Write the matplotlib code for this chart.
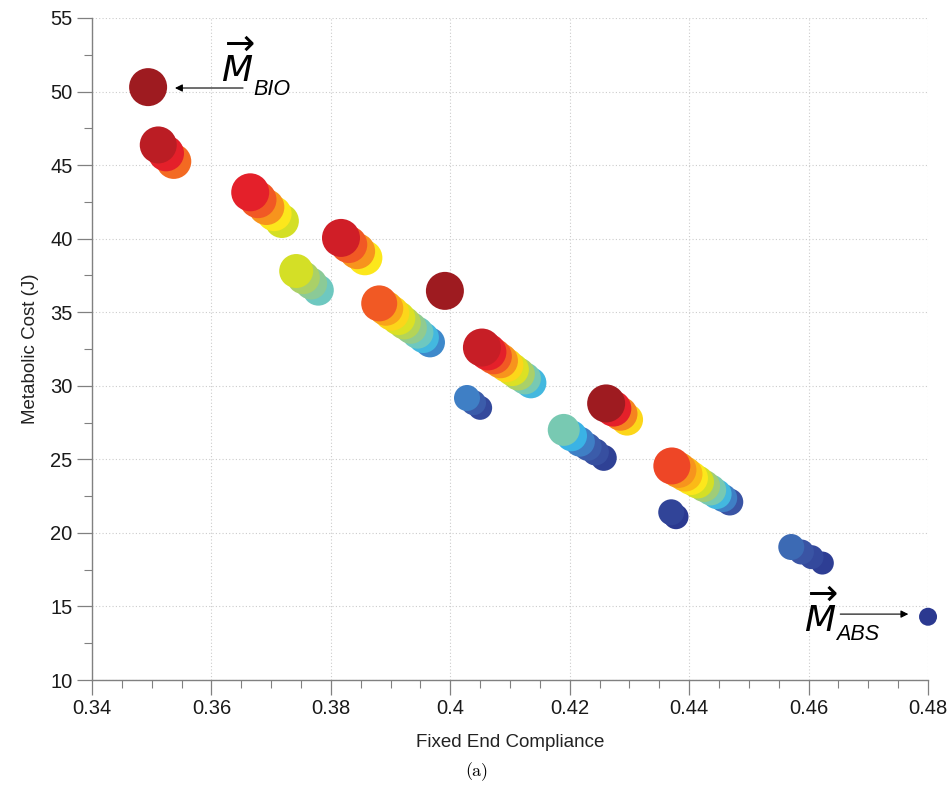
import numpy as np
import matplotlib
matplotlib.use("Agg")
import matplotlib.pyplot as plt
from matplotlib.colors import LinearSegmentedColormap
from matplotlib.ticker import MultipleLocator, FuncFormatter

# compliance / cost pairs, one list per design family (warm end first)
compliance = [
    [0.3494],
    [0.3511, 0.3524, 0.3537],
    [0.3665, 0.3678, 0.3692, 0.3705, 0.3718],
    [0.3817, 0.3830, 0.3844, 0.3857],
    [0.3742, 0.3754, 0.3767, 0.3779],
    [0.3991],
    [0.3881, 0.3892, 0.3902, 0.3913, 0.3923, 0.3934, 0.3945, 0.3955, 0.3966],
    [0.4053, 0.4063, 0.4073, 0.4084, 0.4094, 0.4104, 0.4114, 0.4125, 0.4135],
    [0.4028, 0.4039, 0.4050],
    [0.4261, 0.4273, 0.4285, 0.4296],
    [0.4190, 0.4203, 0.4217, 0.4230, 0.4243, 0.4257],
    [0.4371, 0.4382, 0.4393, 0.4403, 0.4414, 0.4425, 0.4436, 0.4446, 0.4457, 0.4468],
    [0.4370, 0.4378],
    [0.4571, 0.4588, 0.4605, 0.4623],
    [0.4800],
]
metabolic = [
    [50.30],
    [46.37, 45.80, 45.25],
    [43.15, 42.65, 42.15, 41.70, 41.20],
    [40.05, 39.60, 39.15, 38.70],
    [37.80, 37.35, 36.95, 36.50],
    [36.45],
    [35.60, 35.27, 34.94, 34.60, 34.27, 33.94, 33.61, 33.28, 32.95],
    [32.60, 32.30, 32.00, 31.70, 31.40, 31.10, 30.80, 30.50, 30.20],
    [29.17, 28.85, 28.50],
    [28.80, 28.45, 28.10, 27.70],
    [27.00, 26.60, 26.20, 25.85, 25.50, 25.10],
    [24.55, 24.28, 24.00, 23.73, 23.46, 23.19, 22.92, 22.64, 22.37, 22.10],
    [21.40, 21.10],
    [19.04, 18.70, 18.35, 17.95],
    [14.30],
]
# normalised activation level -> colour
level = [
    [1.00],
    [0.97, 0.93, 0.85],
    [0.93, 0.87, 0.80, 0.70, 0.60],
    [0.95, 0.87, 0.80, 0.70],
    [0.60, 0.52, 0.46, 0.40],
    [1.00],
    [0.87, 0.78, 0.72, 0.62, 0.54, 0.47, 0.40, 0.32, 0.22],
    [0.96, 0.93, 0.87, 0.80, 0.72, 0.62, 0.52, 0.42, 0.32],
    [0.20, 0.12, 0.06],
    [1.00, 0.93, 0.82, 0.72],
    [0.42, 0.30, 0.20, 0.12, 0.08, 0.03],
    [0.89, 0.80, 0.75, 0.70, 0.60, 0.50, 0.42, 0.32, 0.20, 0.10],
    [0.04, 0.00],
    [0.15, 0.10, 0.06, 0.02],
    [0.00],
]
# bubble weight (drawn as marker diameter)
weight = [
    [38],
    [37, 36, 35],
    [38, 37, 36, 35, 34],
    [38, 37, 36, 35],
    [34, 33, 32, 31],
    [38],
    [36, 35, 35, 34, 33, 32, 32, 31, 30],
    [38, 37, 36, 35, 34, 33, 33, 32, 31],
    [26, 25, 24],
    [38, 36, 34, 32],
    [32, 31, 30, 28, 27, 26],
    [37, 36, 35, 34, 33, 32, 31, 30, 28, 27],
    [26, 25],
    [26, 25, 24, 23],
    [18],
]

cmap = LinearSegmentedColormap.from_list("levels", [
    (0.00, "#2b3990"), (0.10, "#3a55a4"), (0.20, "#3f7fc5"),
    (0.30, "#3ab4e6"), (0.40, "#6ec8c0"), (0.50, "#9fcc7a"),
    (0.60, "#d4df26"), (0.70, "#fce91c"), (0.76, "#fbb416"),
    (0.80, "#f7941d"), (0.87, "#f15a24"), (0.93, "#e8202a"),
    (1.00, "#9e1b20"),
])

plt.rcParams["font.family"] = ["Liberation Sans", "DejaVu Sans"]
plt.rcParams["mathtext.fontset"] = "dejavusans"

fig = plt.figure(figsize=(9.53, 7.92), dpi=100)
ax = fig.add_axes([0.0965, 0.1414, 0.8773, 0.8359])

for xs, ys, cs, ws in zip(compliance, metabolic, level, weight):
    xs, ys, cs, ws = [np.asarray(v, float)[::-1] for v in (xs, ys, cs, ws)]
    ax.scatter(xs, ys, c=cs, s=(ws * 0.72) ** 2, cmap=cmap, vmin=0, vmax=1,
               edgecolors="none", zorder=3, clip_on=False)

ax.set_xlim(0.34, 0.48)
ax.set_ylim(10, 55)
ax.xaxis.set_major_locator(MultipleLocator(0.02))
ax.xaxis.set_minor_locator(MultipleLocator(0.005))
ax.yaxis.set_major_locator(MultipleLocator(5))
ax.yaxis.set_minor_locator(MultipleLocator(2.5))
ax.xaxis.set_major_formatter(FuncFormatter(lambda v, p: "%g" % round(v, 3)))

for side in ("top", "right"):
    ax.spines[side].set_visible(False)
for side in ("left", "bottom"):
    ax.spines[side].set_color("#808080")
    ax.spines[side].set_linewidth(1.0)
ax.tick_params(which="major", direction="out", length=11, width=0.9,
               color="#808080", labelsize=14.5, labelcolor="#1a1a1a", pad=3)
ax.tick_params(which="minor", direction="out", length=6, width=0.8,
               color="#808080")
ax.grid(True, which="major", linestyle=(0, (1, 2)), color="#cccccc", lw=0.8)
ax.set_axisbelow(True)

ax.set_xlabel("Fixed End Compliance", fontsize=13.5, color="#222222", labelpad=11)
ax.set_ylabel("Metabolic Cost (J)", fontsize=13.5, color="#222222", labelpad=8)

arrow = dict(arrowstyle="-|>", color="black", lw=0.8, mutation_scale=11,
             shrinkA=0, shrinkB=0)

# biological optimum
ax.annotate("", xy=(0.3539, 50.24), xytext=(0.3653, 50.24), arrowprops=arrow)
ax.text(0.3616, 50.65, r"$\overrightarrow{M}$", fontsize=26,
        ha="left", va="baseline")
ax.text(0.3670, 49.78, "BIO", fontsize=15.5, style="italic",
        ha="left", va="baseline")

# absolute optimum
ax.annotate("", xy=(0.4767, 14.48), xytext=(0.4653, 14.48), arrowprops=arrow)
ax.text(0.4592, 13.26, r"$\overrightarrow{M}$", fontsize=26,
        ha="left", va="baseline")
ax.text(0.4646, 12.70, "ABS", fontsize=15.5, style="italic",
        ha="left", va="baseline")

fig.text(0.5, 0.02, "(a)", fontfamily="cmr10", fontsize=13, ha="center")

fig.savefig("out.png", dpi=100)
